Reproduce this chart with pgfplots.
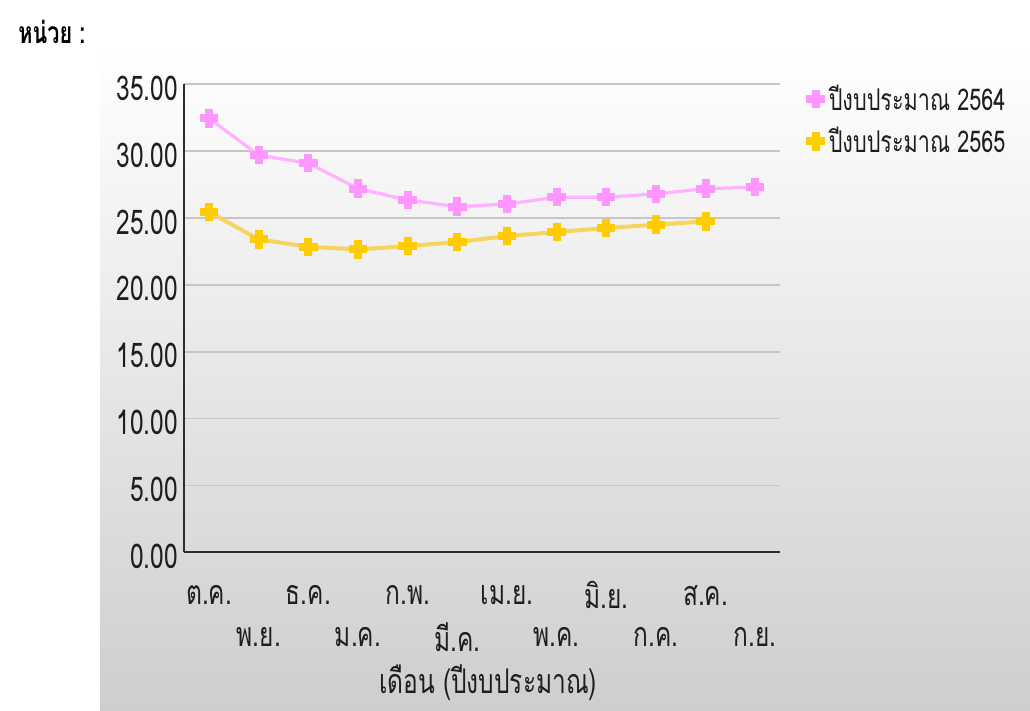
\documentclass[border=0pt]{standalone}
\usepackage{fontspec}
\setmainfont[Script=Thai, FakeStretch=0.72]{Loma}
\usepackage{pgfplots}
\usepackage{pgfplotstable}
\pgfplotsset{compat=1.18}

\definecolor{pinkm}{RGB}{255,150,255}
\definecolor{pinkl}{RGB}{255,178,255}
\definecolor{yellowm}{RGB}{255,204,0}
\definecolor{yellowl}{RGB}{246,212,95}
\definecolor{panelbot}{RGB}{206,206,206}
\definecolor{gridc}{RGB}{198,198,198}
\definecolor{axisc}{RGB}{45,45,45}
\definecolor{labc}{RGB}{30,30,30}

% monthly values, fiscal-year order (Oct .. Sep)
\pgfplotstableread{
m  v64    v65
0  32.45  25.45
1  29.70  23.40
2  29.10  22.85
3  27.20  22.65
4  26.35  22.90
5  25.85  23.20
6  26.05  23.65
7  26.55  23.95
8  26.55  24.25
9  26.80  24.50
10 27.20  24.75
11 27.30  nan
}\budget

\begin{document}
\begin{tikzpicture}
\useasboundingbox (0,0) rectangle (515pt,355.5pt);
\fill[white] (0,0) rectangle (515pt,355.5pt);
\shade[top color=white, bottom color=panelbot] (50pt,0) rectangle (515pt,331.5pt);
\node[anchor=west, inner sep=0pt, text=black,
      font=\bfseries\fontsize{15}{18}\selectfont] at (9pt,339.5pt) {หน่วย :};
\begin{axis}[
  at={(92.15pt,79.35pt)}, anchor=south west,
  scale only axis, width=297.85pt, height=234pt,
  xmin=-0.5, xmax=11.5, ymin=0, ymax=35,
  axis x line=bottom, axis y line=left,
  axis line style={-, axisc, line width=1.1pt},
  major tick length=0pt,
  ytick={0,5,...,35},
  ymajorgrids, grid style={gridc, line width=0.9pt},
  /pgf/number format/assume math mode=true,
  yticklabel style={/pgf/number format/.cd, fixed, fixed zerofill, precision=2,
    /tikz/.cd, anchor=east, inner sep=0pt, xshift=-3pt, yshift=-2pt,
    text=labc, font=\fontsize{17}{20}\selectfont},
  xtick={0,2,4,6,8,10},
  xticklabels={ต.ค., ธ.ค., ก.พ., เม.ย., มิ.ย., ส.ค.},
  xticklabel style={anchor=center, inner sep=0pt, yshift=-21.5pt,
    text=labc, font=\fontsize{17}{20}\selectfont},
  extra x ticks={1,3,5,7,9,11},
  extra x tick labels={พ.ย., ม.ค., มี.ค., พ.ค., ก.ค., ก.ย.},
  extra x tick style={grid=none, xticklabel style={yshift=-21pt}},
  xlabel={เดือน (ปีงบประมาณ)},
  xlabel style={at={(axis description cs:0.5,0)}, anchor=center, inner sep=0pt,
    yshift=-65pt, xshift=3pt, text=labc, font=\fontsize{17}{20}\selectfont},
  legend style={draw=none, fill=none, at={(1,1)}, anchor=north west,
    xshift=10pt, yshift=4pt, row sep=3pt, text=labc,
    font=\fontsize{15}{18}\selectfont},
  legend cell align=left,
  unbounded coords=jump,
]
\addlegendimage{only marks, mark=+, mark size=4.6pt, pinkm, mark options={line width=4pt}}
\addlegendentry{ปีงบประมาณ 2564}
\addlegendimage{only marks, mark=+, mark size=4.6pt, yellowm, mark options={line width=4pt}}
\addlegendentry{ปีงบประมาณ 2565}

\addplot[forget plot, pinkl, line width=1.6pt, mark=+, mark size=4.6pt,
  mark options={pinkm, line width=4pt}] table[x=m, y=v64] {\budget};
\addplot[forget plot, yellowl, line width=2pt, mark=+, mark size=4.6pt,
  mark options={yellowm, line width=4pt}] table[x=m, y=v65] {\budget};
\end{axis}
\end{tikzpicture}
\end{document}
